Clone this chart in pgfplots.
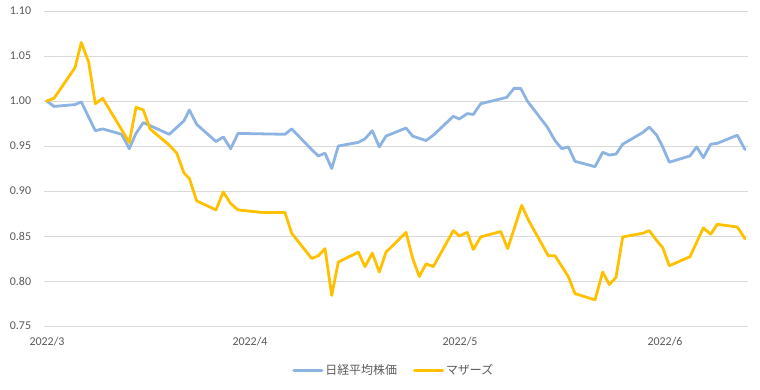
\documentclass[border=0pt]{standalone}
\usepackage{fontspec}
\setmainfont{Carlito}
\newfontfamily\jp{Noto Sans CJK JP}
\usepackage{pgfplots}
\pgfplotsset{compat=1.18}
\definecolor{nikkei}{HTML}{8DB3E2}
\definecolor{mothers}{HTML}{FFC000}
\definecolor{txt}{HTML}{595959}
\definecolor{grid}{HTML}{D9D9D9}
\begin{document}
\begin{tikzpicture}
\path[use as bounding box] (0,0) rectangle (760bp,390bp);
\begin{axis}[
  at={(44.3bp,64bp)}, anchor=south west,
  scale only axis, width=703.2bp, height=315bp,
  xmin=44.3, xmax=747.5, ymin=0.75, ymax=1.10,
  ytick={0.75,0.80,0.85,0.90,0.95,1.00,1.05,1.10},
  xtick={47,250,460,665},
  xticklabels={2022/3,2022/4,2022/5,2022/6},
  /pgf/number format/assume math mode=true,
  y tick label style={/pgf/number format/fixed, /pgf/number format/fixed zerofill, /pgf/number format/precision=2},
  every tick label/.append style={font=\fontsize{12}{14}\selectfont, text=txt},
  yticklabel style={anchor=east, inner sep=0pt, xshift=-13bp},
  xticklabel style={anchor=north, inner sep=0pt, yshift=-11bp},
  major tick length=0pt,
  axis line style={draw=none},
  ymajorgrids, grid style={draw=grid, line width=0.75bp},
  legend style={at={(axis description cs:0.497,-0.1397)}, anchor=center, draw=none, fill=none,
    font=\fontsize{12}{14}\selectfont\jp, text=txt, inner sep=0pt,
    /tikz/every even column/.append style={column sep=14bp}},
  legend columns=2,
  legend image code/.code={\draw[#1, line width=3bp] (0bp,0bp) -- (28bp,0bp);},
  legend cell align=left,
]
\addplot[nikkei, line width=2.8bp, line join=round, line cap=round] coordinates {
(46.7,1.000) (54,0.994) (75,0.996) (81.3,0.999) (95.3,0.967) (102.7,0.969)
(121.7,0.963) (129.3,0.947) (136,0.964) (143.3,0.976) (169.3,0.963) (184,0.978)
(189.3,0.990) (196.7,0.974) (216,0.955) (223.3,0.960) (230.7,0.947) (238,0.964)
(285,0.963) (291.7,0.969) (311.7,0.946) (318.3,0.939) (325,0.942) (331.7,0.925)
(338.3,0.950) (358.3,0.954) (365,0.958) (372.3,0.967) (379.3,0.949) (386,0.961)
(406,0.970) (412.7,0.961) (426,0.956) (433.3,0.962) (453.3,0.983) (459.3,0.980)
(467.3,0.986) (473.3,0.985) (480.7,0.997) (506.7,1.004) (514,1.014) (520.7,1.014)
(527.3,1.000) (547.3,0.971) (555,0.956) (561.7,0.947) (568.3,0.949) (575,0.933)
(595,0.927) (602.7,0.943) (609.3,0.940) (616,0.941) (622.7,0.952) (642.7,0.965)
(649.3,0.971) (656.7,0.962) (662.7,0.949) (669.3,0.932) (690,0.939) (696.7,0.949)
(703.3,0.937) (710.7,0.952) (717.3,0.953) (737.3,0.962) (745,0.946)
};
\addlegendentry{日経平均株価}
\addplot[mothers, line width=2.8bp, line join=round, line cap=round] coordinates {
(46.7,1.000) (54,1.003) (75,1.037) (81.3,1.065) (88.7,1.043) (95.3,0.997)
(102.7,1.003) (129.3,0.954) (136,0.993) (143.3,0.990) (150,0.969) (169.3,0.951)
(176.7,0.942) (184,0.920) (189.3,0.914) (196.7,0.889) (216,0.879) (223.3,0.899)
(230.7,0.886) (238,0.879) (263.3,0.876) (285,0.876) (291.7,0.853) (311.7,0.825)
(318.3,0.828) (325,0.836) (331.7,0.784) (338.3,0.821) (358.3,0.832) (365,0.816)
(372.3,0.831) (379.3,0.810) (386,0.832) (406,0.854) (412.7,0.825) (419.3,0.805)
(426,0.819) (433.3,0.816) (453.3,0.856) (459.3,0.850) (467.3,0.854) (473.3,0.835)
(480.7,0.849) (500.7,0.855) (507.7,0.836) (521.7,0.884) (528.3,0.868) (548.3,0.828)
(555,0.828) (568.3,0.805) (575,0.786) (595,0.779) (602.7,0.810) (609.3,0.796)
(616,0.804) (622.7,0.849) (642.7,0.853) (649.3,0.856) (656.7,0.845) (662.7,0.837)
(669.3,0.817) (690,0.827) (703.3,0.859) (710.7,0.852) (717.3,0.863) (737.3,0.860)
(745,0.847)
};
\addlegendentry{マザーズ}
\end{axis}
\end{tikzpicture}
\end{document}
